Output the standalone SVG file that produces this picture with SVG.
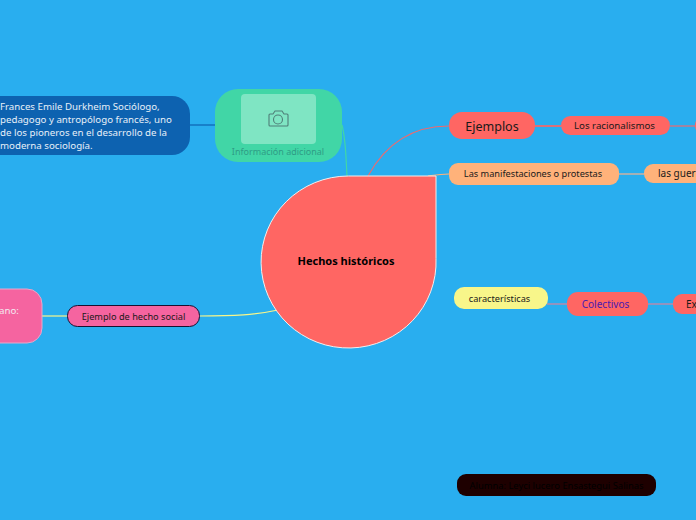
<svg xmlns="http://www.w3.org/2000/svg" width="696" height="520" viewBox="0 0 696 520">
<style>
text{font-family:"Noto Sans","Open Sans","DejaVu Sans",sans-serif;font-size:9.2px;fill:#1a1a1a}
.c{fill:none;stroke-width:1.2}
.w{stroke-width:1.8}
.m{text-anchor:middle}
.lt{fill:#e8f0f8;font-size:9.7px}
</style>
<rect width="696" height="520" fill="#29aeef"/>
<g id="connectors">
<path class="c" d="M190,125H215" stroke="#0d62b0"/>
<path class="c" d="M342,125C346,140 346,160 347,176" stroke="#41d6a6"/>
<path class="c" d="M368,176C385,145 410,126 449,126" stroke="#f0696e"/>
<path class="c w" d="M535,126H561" stroke="#f0696e"/>
<path class="c" d="M670,126H696" stroke="#f0696e"/>
<path class="c" d="M428,176C435,175 440,174 449,174" stroke="#ffb27a"/>
<path class="c w" d="M618,174H644" stroke="#b4b0ae"/>
<path class="c w" d="M547,304H567" stroke="#a090b8"/>
<path class="c w" d="M648,304H673" stroke="#a090b8"/>
<path class="c" d="M278,310C255,315 235,316 199,316" stroke="#f8f68a"/>
<path class="c" d="M42,316H67" stroke="#f8f68a"/>
</g>
<g id="central"><path d="M436,176V258.500A87.500,86 0 1 1 348.500,176Z" fill="#ff6663" stroke="#f3eeee"/><text class="m" x="346" y="265" style="font-weight:700;font-size:11px;fill:#000">Hechos históricos</text></g>
<g id="info"><rect x="215" y="89" width="127" height="73" rx="23" fill="#41d6a6"/><rect x="241" y="94" width="75" height="50" rx="4" fill="#7fe5c3"/><g fill="none" stroke="#4f7f78" stroke-width="1.100"><path d="M270,114h3l2,-3h7l2,3h3q1,0 1,1v10q0,1 -1,1h-17q-1,0 -1,-1v-10q0,-1 1,-1z"/><circle cx="278" cy="119.500" r="4.500"/></g><text class="m" x="278" y="155" style="font-size:9px;fill:#2f9c85">Información adicional</text></g>
<g id="durkheim"><rect x="-30" y="96" width="220" height="59" rx="18" fill="#0d62b0"/><text class="lt" x="0" y="110">Frances Emile Durkheim Sociólogo,</text><text class="lt" x="0" y="123">pedagogo y antropólogo francés, uno</text><text class="lt" x="0" y="136">de los pioneros en el desarrollo de la</text><text class="lt" x="0" y="149">moderna sociología.</text></g>
<g id="ejemplos"><rect x="449" y="112" width="86" height="27" rx="13" fill="#ff6663"/><text class="m" x="492" y="131" style="font-size:12.5px">Ejemplos</text></g>
<g id="racionalismos"><rect x="561" y="116" width="109" height="19" rx="9.500" fill="#ff6663"/><text class="m" x="614.500" y="129" style="font-size:9.7px">Los racionalismos</text></g>
<g id="racionalismos-next"><rect x="695" y="116" width="20" height="19" rx="9" fill="#ff6663"/></g>
<g id="manifestaciones"><rect x="449" y="163" width="170" height="22" rx="9" fill="#ffb27a"/><text class="m" x="533" y="177">Las manifestaciones o protestas</text></g>
<g id="guerras"><rect x="644" y="164" width="90" height="19" rx="9" fill="#ffb27a"/><text x="658" y="177" style="font-size:10px">las guerr</text></g>
<g id="caracteristicas"><rect x="454" y="287" width="94" height="22" rx="10" fill="#f8f68a"/><text class="m" x="499.500" y="302">características</text></g>
<g id="colectivos"><rect x="567" y="292" width="81" height="24" rx="11" fill="#ff6663"/><text class="m" x="605.500" y="308" style="fill:#4a1ab0;font-size:10px">Colectivos</text></g>
<g id="ex"><rect x="673" y="294" width="60" height="20" rx="9" fill="#ff6663"/><text x="686" y="308" style="font-size:10px">Ex</text></g>
<g id="ejemplo-hecho"><rect x="67.500" y="305.500" width="132" height="21" rx="10" fill="#f564a0" stroke="#1a1030"/><text class="m" x="133.500" y="320">Ejemplo de hecho social</text></g>
<g id="humano"><rect x="-60" y="289" width="102" height="54" rx="15" fill="#f564a0" stroke="#e6a8cc"/><text x="-1" y="314" style="fill:#f4e8f0;font-size:9.7px">ano:</text></g>
<g id="alumna"><rect x="457" y="474" width="199" height="22" rx="9" fill="#1e0000"/><text class="m" x="556.500" y="489" style="fill:#000;font-size:9.4px">Alumna: Leyci lucero Ensastegui Salinas</text></g>
</svg>
